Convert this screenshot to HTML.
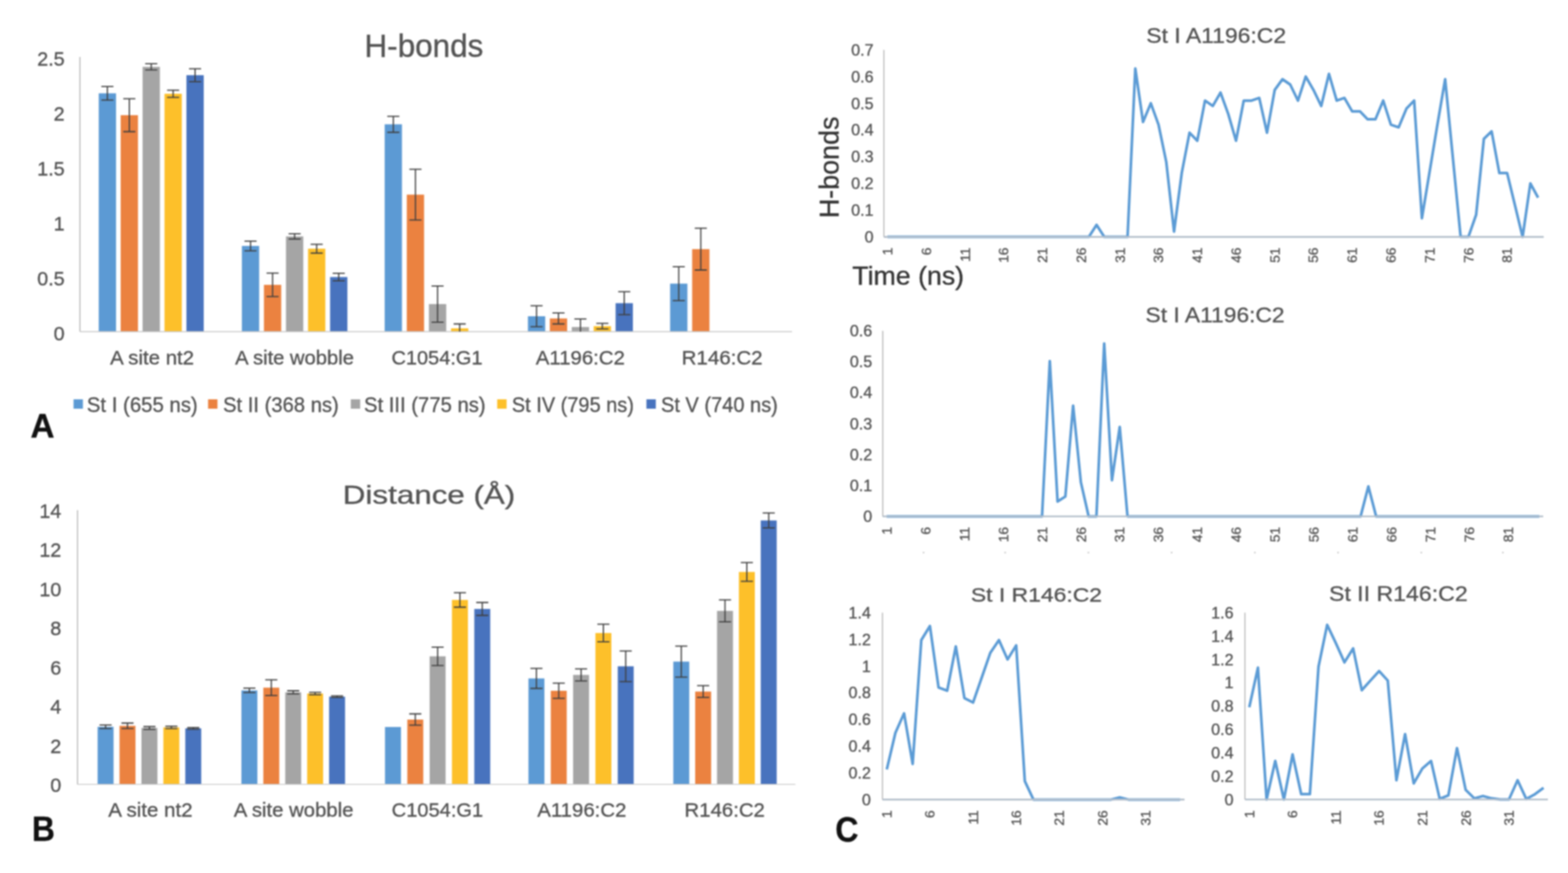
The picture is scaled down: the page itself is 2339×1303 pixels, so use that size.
<!DOCTYPE html>
<html><head><meta charset="utf-8"><title>Figure</title>
<style>
html,body{margin:0;padding:0;background:#fff;}
body{width:2339px;height:1303px;overflow:hidden;}
svg{display:block;font-family:"Liberation Sans",Arial,Helvetica,sans-serif;}
#wrap{filter:blur(1px);}
</style></head><body><div id="wrap">
<svg width="2339" height="1303" viewBox="0 0 2339 1303">
<rect width="2339" height="1303" fill="#fff"/>
<rect x="147.30" y="139.28" width="25.80" height="355.72" fill="#5C9AD4"/>
<rect x="180.00" y="171.92" width="25.80" height="323.08" fill="#EB8240"/>
<rect x="212.70" y="99.76" width="25.80" height="395.24" fill="#A5A5A5"/>
<rect x="245.40" y="139.94" width="25.80" height="355.06" fill="#FDC02A"/>
<rect x="278.10" y="112.22" width="25.80" height="382.78" fill="#4873BE"/>
<rect x="360.80" y="367.08" width="25.80" height="127.92" fill="#5C9AD4"/>
<rect x="393.70" y="425.14" width="25.80" height="69.86" fill="#EB8240"/>
<rect x="426.60" y="352.81" width="25.80" height="142.19" fill="#A5A5A5"/>
<rect x="459.50" y="371.18" width="25.80" height="123.82" fill="#FDC02A"/>
<rect x="492.40" y="413.49" width="25.80" height="81.51" fill="#4873BE"/>
<rect x="573.80" y="185.53" width="25.80" height="309.47" fill="#5C9AD4"/>
<rect x="606.80" y="290.49" width="25.80" height="204.51" fill="#EB8240"/>
<rect x="639.80" y="453.84" width="25.80" height="41.16" fill="#A5A5A5"/>
<rect x="672.80" y="490.08" width="25.80" height="4.92" fill="#FDC02A"/>
<rect x="787.50" y="472.04" width="25.80" height="22.96" fill="#5C9AD4"/>
<rect x="820.20" y="475.32" width="25.80" height="19.68" fill="#EB8240"/>
<rect x="852.90" y="488.11" width="25.80" height="6.89" fill="#A5A5A5"/>
<rect x="885.60" y="486.80" width="25.80" height="8.20" fill="#FDC02A"/>
<rect x="918.30" y="452.52" width="25.80" height="42.48" fill="#4873BE"/>
<rect x="999.60" y="423.33" width="25.80" height="71.67" fill="#5C9AD4"/>
<rect x="1032.50" y="371.84" width="25.80" height="123.16" fill="#EB8240"/>
<line x1="119.30" y1="85.00" x2="119.30" y2="495.00" stroke="#ABABAB" stroke-width="1.4"/>
<line x1="119.30" y1="495.00" x2="1181.50" y2="495.00" stroke="#C6C6C6" stroke-width="1.3"/>
<path d="M160.20 129.12V149.45M151.20 129.12H169.20M151.20 149.45H169.20" stroke="#3F3F3F" stroke-width="1.8" fill="none"/>
<path d="M192.90 147.32V196.52M183.90 147.32H201.90M183.90 196.52H201.90" stroke="#3F3F3F" stroke-width="1.8" fill="none"/>
<path d="M225.60 95.17V104.35M216.60 95.17H234.60M216.60 104.35H234.60" stroke="#3F3F3F" stroke-width="1.8" fill="none"/>
<path d="M258.30 134.53V145.35M249.30 134.53H267.30M249.30 145.35H267.30" stroke="#3F3F3F" stroke-width="1.8" fill="none"/>
<path d="M291.00 102.55V121.90M282.00 102.55H300.00M282.00 121.90H300.00" stroke="#3F3F3F" stroke-width="1.8" fill="none"/>
<path d="M373.70 359.86V374.30M364.70 359.86H382.70M364.70 374.30H382.70" stroke="#3F3F3F" stroke-width="1.8" fill="none"/>
<path d="M406.60 407.59V442.68M397.60 407.59H415.60M397.60 442.68H415.60" stroke="#3F3F3F" stroke-width="1.8" fill="none"/>
<path d="M439.50 348.88V356.75M430.50 348.88H448.50M430.50 356.75H448.50" stroke="#3F3F3F" stroke-width="1.8" fill="none"/>
<path d="M472.40 364.62V377.74M463.40 364.62H481.40M463.40 377.74H481.40" stroke="#3F3F3F" stroke-width="1.8" fill="none"/>
<path d="M505.30 407.92V419.07M496.30 407.92H514.30M496.30 419.07H514.30" stroke="#3F3F3F" stroke-width="1.8" fill="none"/>
<path d="M586.70 173.56V197.50M577.70 173.56H595.70M577.70 197.50H595.70" stroke="#3F3F3F" stroke-width="1.8" fill="none"/>
<path d="M619.70 252.61V328.38M610.70 252.61H628.70M610.70 328.38H628.70" stroke="#3F3F3F" stroke-width="1.8" fill="none"/>
<path d="M652.70 426.78V480.90M643.70 426.78H661.70M643.70 480.90H661.70" stroke="#3F3F3F" stroke-width="1.8" fill="none"/>
<path d="M685.70 483.52V495.00M676.70 483.52H694.70" stroke="#3F3F3F" stroke-width="1.8" fill="none"/>
<path d="M800.40 456.46V487.62M791.40 456.46H809.40M791.40 487.62H809.40" stroke="#3F3F3F" stroke-width="1.8" fill="none"/>
<path d="M833.10 467.12V483.52M824.10 467.12H842.10M824.10 483.52H842.10" stroke="#3F3F3F" stroke-width="1.8" fill="none"/>
<path d="M865.80 476.14V495.00M856.80 476.14H874.80" stroke="#3F3F3F" stroke-width="1.8" fill="none"/>
<path d="M898.50 482.70V490.90M889.50 482.70H907.50M889.50 490.90H907.50" stroke="#3F3F3F" stroke-width="1.8" fill="none"/>
<path d="M931.20 435.47V469.58M922.20 435.47H940.20M922.20 469.58H940.20" stroke="#3F3F3F" stroke-width="1.8" fill="none"/>
<path d="M1012.50 398.08V448.59M1003.50 398.08H1021.50M1003.50 448.59H1021.50" stroke="#3F3F3F" stroke-width="1.8" fill="none"/>
<path d="M1045.40 340.68V403.00M1036.40 340.68H1054.40M1036.40 403.00H1054.40" stroke="#3F3F3F" stroke-width="1.8" fill="none"/>
<rect x="145.60" y="1084.79" width="23.80" height="85.91" fill="#5C9AD4"/>
<rect x="178.30" y="1083.33" width="23.80" height="87.37" fill="#EB8240"/>
<rect x="211.00" y="1086.54" width="23.80" height="84.16" fill="#A5A5A5"/>
<rect x="243.70" y="1085.67" width="23.80" height="85.03" fill="#FDC02A"/>
<rect x="276.40" y="1087.13" width="23.80" height="83.57" fill="#4873BE"/>
<rect x="360.10" y="1030.44" width="23.80" height="140.26" fill="#5C9AD4"/>
<rect x="392.80" y="1026.35" width="23.80" height="144.35" fill="#EB8240"/>
<rect x="425.50" y="1033.36" width="23.80" height="137.34" fill="#A5A5A5"/>
<rect x="458.20" y="1035.11" width="23.80" height="135.59" fill="#FDC02A"/>
<rect x="490.90" y="1039.79" width="23.80" height="130.91" fill="#4873BE"/>
<rect x="574.30" y="1085.08" width="23.80" height="85.62" fill="#5C9AD4"/>
<rect x="607.60" y="1073.98" width="23.80" height="96.72" fill="#EB8240"/>
<rect x="640.90" y="979.59" width="23.80" height="191.11" fill="#A5A5A5"/>
<rect x="674.20" y="895.43" width="23.80" height="275.27" fill="#FDC02A"/>
<rect x="707.50" y="908.88" width="23.80" height="261.82" fill="#4873BE"/>
<rect x="788.30" y="1012.61" width="23.80" height="158.09" fill="#5C9AD4"/>
<rect x="821.60" y="1031.02" width="23.80" height="139.68" fill="#EB8240"/>
<rect x="854.90" y="1007.35" width="23.80" height="163.35" fill="#A5A5A5"/>
<rect x="888.20" y="944.82" width="23.80" height="225.88" fill="#FDC02A"/>
<rect x="921.50" y="994.49" width="23.80" height="176.21" fill="#4873BE"/>
<rect x="1004.40" y="987.48" width="23.80" height="183.22" fill="#5C9AD4"/>
<rect x="1037.00" y="1032.19" width="23.80" height="138.51" fill="#EB8240"/>
<rect x="1069.60" y="911.80" width="23.80" height="258.90" fill="#A5A5A5"/>
<rect x="1102.20" y="853.65" width="23.80" height="317.05" fill="#FDC02A"/>
<rect x="1134.80" y="776.80" width="23.80" height="393.90" fill="#4873BE"/>
<line x1="115.60" y1="761.60" x2="115.60" y2="1170.70" stroke="#ABABAB" stroke-width="1.4"/>
<line x1="115.60" y1="1170.70" x2="1186.50" y2="1170.70" stroke="#C6C6C6" stroke-width="1.3"/>
<path d="M157.50 1082.16V1087.42M148.50 1082.16H166.50M148.50 1087.42H166.50" stroke="#3F3F3F" stroke-width="1.8" fill="none"/>
<path d="M190.20 1079.24V1087.42M181.20 1079.24H199.20M181.20 1087.42H199.20" stroke="#3F3F3F" stroke-width="1.8" fill="none"/>
<path d="M222.90 1084.50V1088.59M213.90 1084.50H231.90M213.90 1088.59H231.90" stroke="#3F3F3F" stroke-width="1.8" fill="none"/>
<path d="M255.60 1083.91V1087.42M246.60 1083.91H264.60M246.60 1087.42H264.60" stroke="#3F3F3F" stroke-width="1.8" fill="none"/>
<path d="M288.30 1085.96V1088.30M279.30 1085.96H297.30M279.30 1088.30H297.30" stroke="#3F3F3F" stroke-width="1.8" fill="none"/>
<path d="M372.00 1027.22V1033.65M363.00 1027.22H381.00M363.00 1033.65H381.00" stroke="#3F3F3F" stroke-width="1.8" fill="none"/>
<path d="M404.70 1014.66V1038.03M395.70 1014.66H413.70M395.70 1038.03H413.70" stroke="#3F3F3F" stroke-width="1.8" fill="none"/>
<path d="M437.40 1031.02V1035.70M428.40 1031.02H446.40M428.40 1035.70H446.40" stroke="#3F3F3F" stroke-width="1.8" fill="none"/>
<path d="M470.10 1033.36V1036.87M461.10 1033.36H479.10M461.10 1036.87H479.10" stroke="#3F3F3F" stroke-width="1.8" fill="none"/>
<path d="M502.80 1038.62V1040.96M493.80 1038.62H511.80M493.80 1040.96H511.80" stroke="#3F3F3F" stroke-width="1.8" fill="none"/>
<path d="M619.50 1065.50V1082.45M610.50 1065.50H628.50M610.50 1082.45H628.50" stroke="#3F3F3F" stroke-width="1.8" fill="none"/>
<path d="M652.80 965.86V993.33M643.80 965.86H661.80M643.80 993.33H661.80" stroke="#3F3F3F" stroke-width="1.8" fill="none"/>
<path d="M686.10 884.62V906.25M677.10 884.62H695.10M677.10 906.25H695.10" stroke="#3F3F3F" stroke-width="1.8" fill="none"/>
<path d="M719.40 899.23V918.52M710.40 899.23H728.40M710.40 918.52H728.40" stroke="#3F3F3F" stroke-width="1.8" fill="none"/>
<path d="M800.20 997.71V1027.52M791.20 997.71H809.20M791.20 1027.52H809.20" stroke="#3F3F3F" stroke-width="1.8" fill="none"/>
<path d="M833.50 1019.63V1042.42M824.50 1019.63H842.50M824.50 1042.42H842.50" stroke="#3F3F3F" stroke-width="1.8" fill="none"/>
<path d="M866.80 998.29V1016.41M857.80 998.29H875.80M857.80 1016.41H875.80" stroke="#3F3F3F" stroke-width="1.8" fill="none"/>
<path d="M900.10 931.67V957.97M891.10 931.67H909.10M891.10 957.97H909.10" stroke="#3F3F3F" stroke-width="1.8" fill="none"/>
<path d="M933.40 971.70V1017.29M924.40 971.70H942.40M924.40 1017.29H942.40" stroke="#3F3F3F" stroke-width="1.8" fill="none"/>
<path d="M1016.30 964.40V1010.57M1007.30 964.40H1025.30M1007.30 1010.57H1025.30" stroke="#3F3F3F" stroke-width="1.8" fill="none"/>
<path d="M1048.90 1023.42V1040.96M1039.90 1023.42H1057.90M1039.90 1040.96H1057.90" stroke="#3F3F3F" stroke-width="1.8" fill="none"/>
<path d="M1081.50 895.43V928.16M1072.50 895.43H1090.50M1072.50 928.16H1090.50" stroke="#3F3F3F" stroke-width="1.8" fill="none"/>
<path d="M1114.10 839.62V867.67M1105.10 839.62H1123.10M1105.10 867.67H1123.10" stroke="#3F3F3F" stroke-width="1.8" fill="none"/>
<path d="M1146.70 765.69V787.90M1137.70 765.69H1155.70M1137.70 787.90H1155.70" stroke="#3F3F3F" stroke-width="1.8" fill="none"/>
<text x="543.65" y="84.50" font-size="47.45" fill="#535353" stroke="#535353" stroke-width="0.45" textLength="177.39" lengthAdjust="spacingAndGlyphs">H-bonds</text>
<text x="96.50" y="507.80" font-size="29.50" text-anchor="end" fill="#535353" stroke="#535353" stroke-width="0.45">0</text>
<text x="96.50" y="425.80" font-size="29.50" text-anchor="end" fill="#535353" stroke="#535353" stroke-width="0.45">0.5</text>
<text x="96.50" y="343.80" font-size="29.50" text-anchor="end" fill="#535353" stroke="#535353" stroke-width="0.45">1</text>
<text x="96.50" y="261.80" font-size="29.50" text-anchor="end" fill="#535353" stroke="#535353" stroke-width="0.45">1.5</text>
<text x="96.50" y="179.80" font-size="29.50" text-anchor="end" fill="#535353" stroke="#535353" stroke-width="0.45">2</text>
<text x="96.50" y="97.80" font-size="29.50" text-anchor="end" fill="#535353" stroke="#535353" stroke-width="0.45">2.5</text>
<text x="164.20" y="544.10" font-size="29.24" fill="#535353" stroke="#535353" stroke-width="0.45" textLength="125.29" lengthAdjust="spacingAndGlyphs">A site nt2</text>
<text x="350.70" y="544.10" font-size="29.24" fill="#535353" stroke="#535353" stroke-width="0.45" textLength="177.24" lengthAdjust="spacingAndGlyphs">A site wobble</text>
<text x="583.91" y="544.10" font-size="30.29" fill="#535353" stroke="#535353" stroke-width="0.45" textLength="135.89" lengthAdjust="spacingAndGlyphs">C1054:G1</text>
<text x="799.30" y="544.10" font-size="30.29" fill="#535353" stroke="#535353" stroke-width="0.45" textLength="132.78" lengthAdjust="spacingAndGlyphs">A1196:C2</text>
<text x="1016.75" y="544.10" font-size="30.29" fill="#535353" stroke="#535353" stroke-width="0.45" textLength="120.84" lengthAdjust="spacingAndGlyphs">R146:C2</text>
<rect x="109.70" y="596" width="14" height="14" fill="#5C9AD4"/>
<text x="129.53" y="614.70" font-size="31.03" fill="#535353" stroke="#535353" stroke-width="0.45" textLength="165.45" lengthAdjust="spacingAndGlyphs">St I (655 ns)</text>
<rect x="310.40" y="596" width="14" height="14" fill="#EB8240"/>
<text x="332.74" y="614.70" font-size="31.03" fill="#535353" stroke="#535353" stroke-width="0.45" textLength="172.61" lengthAdjust="spacingAndGlyphs">St II (368 ns)</text>
<rect x="523.30" y="596" width="14" height="14" fill="#A5A5A5"/>
<text x="543.04" y="614.70" font-size="31.03" fill="#535353" stroke="#535353" stroke-width="0.45" textLength="181.35" lengthAdjust="spacingAndGlyphs">St III (775 ns)</text>
<rect x="741.70" y="596" width="14" height="14" fill="#FDC02A"/>
<text x="763.46" y="614.70" font-size="31.03" fill="#535353" stroke="#535353" stroke-width="0.45" textLength="182.25" lengthAdjust="spacingAndGlyphs">St IV (795 ns)</text>
<rect x="964.30" y="596" width="14" height="14" fill="#4873BE"/>
<text x="986.06" y="614.70" font-size="31.03" fill="#535353" stroke="#535353" stroke-width="0.45" textLength="174.27" lengthAdjust="spacingAndGlyphs">St V (740 ns)</text>
<text x="45.46" y="653.20" font-size="50.58" font-weight="bold" fill="#111" stroke="#111" stroke-width="0.45" textLength="35.79" lengthAdjust="spacingAndGlyphs">A</text>
<text x="511.36" y="752.40" font-size="38.16" fill="#535353" stroke="#535353" stroke-width="0.45" textLength="257.22" lengthAdjust="spacingAndGlyphs">Distance (Å)</text>
<text x="91.50" y="1182.20" font-size="29.50" text-anchor="end" fill="#535353" stroke="#535353" stroke-width="0.45">0</text>
<text x="91.50" y="1123.70" font-size="29.50" text-anchor="end" fill="#535353" stroke="#535353" stroke-width="0.45">2</text>
<text x="91.50" y="1065.20" font-size="29.50" text-anchor="end" fill="#535353" stroke="#535353" stroke-width="0.45">4</text>
<text x="91.50" y="1006.70" font-size="29.50" text-anchor="end" fill="#535353" stroke="#535353" stroke-width="0.45">6</text>
<text x="91.50" y="948.20" font-size="29.50" text-anchor="end" fill="#535353" stroke="#535353" stroke-width="0.45">8</text>
<text x="91.50" y="889.70" font-size="29.50" text-anchor="end" fill="#535353" stroke="#535353" stroke-width="0.45">10</text>
<text x="91.50" y="831.20" font-size="29.50" text-anchor="end" fill="#535353" stroke="#535353" stroke-width="0.45">12</text>
<text x="91.50" y="772.70" font-size="29.50" text-anchor="end" fill="#535353" stroke="#535353" stroke-width="0.45">14</text>
<text x="161.40" y="1218.60" font-size="28.97" fill="#535353" stroke="#535353" stroke-width="0.45" textLength="126.00" lengthAdjust="spacingAndGlyphs">A site nt2</text>
<text x="348.70" y="1218.60" font-size="28.97" fill="#535353" stroke="#535353" stroke-width="0.45" textLength="178.55" lengthAdjust="spacingAndGlyphs">A site wobble</text>
<text x="584.30" y="1218.60" font-size="30.00" fill="#535353" stroke="#535353" stroke-width="0.45" textLength="136.40" lengthAdjust="spacingAndGlyphs">C1054:G1</text>
<text x="801.40" y="1218.60" font-size="30.00" fill="#535353" stroke="#535353" stroke-width="0.45" textLength="132.98" lengthAdjust="spacingAndGlyphs">A1196:C2</text>
<text x="1021.07" y="1218.60" font-size="30.00" fill="#535353" stroke="#535353" stroke-width="0.45" textLength="119.91" lengthAdjust="spacingAndGlyphs">R146:C2</text>
<text x="47.73" y="1255.30" font-size="51.30" font-weight="bold" fill="#111" stroke="#111" stroke-width="0.45" textLength="34.10" lengthAdjust="spacingAndGlyphs">B</text>
<line x1="1318.50" y1="74.40" x2="1318.50" y2="353.60" stroke="#ABABAB" stroke-width="1.4"/>
<line x1="1318.50" y1="353.60" x2="2302.60" y2="353.60" stroke="#ABABAB" stroke-width="1.4"/>
<polyline points="1323.78,353.60 1335.33,353.60 1346.89,353.60 1358.44,353.60 1370.00,353.60 1381.55,353.60 1393.11,353.60 1404.66,353.60 1416.22,353.60 1427.77,353.60 1439.33,353.60 1450.88,353.60 1462.44,353.60 1473.99,353.60 1485.55,353.60 1497.10,353.60 1508.66,353.60 1520.21,353.60 1531.77,353.60 1543.32,353.60 1554.88,353.60 1566.43,353.60 1577.99,353.60 1589.54,353.60 1601.10,353.60 1612.65,353.60 1624.21,353.60 1635.76,335.65 1647.32,353.60 1658.87,353.60 1670.43,353.60 1681.98,353.60 1693.54,102.32 1705.09,182.09 1716.65,154.17 1728.20,186.08 1739.76,241.92 1751.31,345.62 1762.87,257.87 1774.42,198.05 1785.98,210.01 1797.53,150.18 1809.09,158.16 1820.64,138.22 1832.20,170.13 1843.75,210.01 1855.31,150.18 1866.86,150.18 1878.42,146.19 1889.97,198.05 1901.53,134.23 1913.08,118.27 1924.64,126.25 1936.19,150.18 1947.75,114.29 1959.30,134.23 1970.86,158.16 1982.41,110.30 1993.97,150.18 2005.52,146.19 2017.08,166.14 2028.63,166.14 2040.19,178.10 2051.74,178.10 2063.30,150.18 2074.85,186.08 2086.41,190.07 2097.96,162.15 2109.52,150.18 2121.07,325.68 2132.63,255.88 2144.18,186.08 2155.74,118.27 2167.29,235.94 2178.85,353.60 2190.40,353.60 2201.96,320.49 2213.51,207.22 2225.07,196.05 2236.62,258.27 2248.18,258.27 2259.73,305.74 2271.29,353.60 2282.84,273.83 2294.40,294.97" fill="none" stroke="#5B9BD5" stroke-width="4" stroke-linejoin="round"/>
<line x1="1318.50" y1="353.60" x2="2302.60" y2="353.60" stroke="#B4BFCB" stroke-width="2.6"/>
<text x="1303.00" y="362.00" font-size="24.00" text-anchor="end" fill="#535353" stroke="#535353" stroke-width="0.45">0</text>
<text x="1303.00" y="322.11" font-size="24.00" text-anchor="end" fill="#535353" stroke="#535353" stroke-width="0.45">0.1</text>
<text x="1303.00" y="282.23" font-size="24.00" text-anchor="end" fill="#535353" stroke="#535353" stroke-width="0.45">0.2</text>
<text x="1303.00" y="242.34" font-size="24.00" text-anchor="end" fill="#535353" stroke="#535353" stroke-width="0.45">0.3</text>
<text x="1303.00" y="202.46" font-size="24.00" text-anchor="end" fill="#535353" stroke="#535353" stroke-width="0.45">0.4</text>
<text x="1303.00" y="162.57" font-size="24.00" text-anchor="end" fill="#535353" stroke="#535353" stroke-width="0.45">0.5</text>
<text x="1303.00" y="122.69" font-size="24.00" text-anchor="end" fill="#535353" stroke="#535353" stroke-width="0.45">0.6</text>
<text x="1303.00" y="82.80" font-size="24.00" text-anchor="end" fill="#535353" stroke="#535353" stroke-width="0.45">0.7</text>
<text transform="translate(1330.95,369.50) rotate(-90)" font-size="20.50" text-anchor="end" fill="#535353" stroke="#535353" stroke-width="0.45">1</text>
<text transform="translate(1388.73,369.50) rotate(-90)" font-size="20.50" text-anchor="end" fill="#535353" stroke="#535353" stroke-width="0.45">6</text>
<text transform="translate(1446.50,369.50) rotate(-90)" font-size="20.50" text-anchor="end" fill="#535353" stroke="#535353" stroke-width="0.45">11</text>
<text transform="translate(1504.28,369.50) rotate(-90)" font-size="20.50" text-anchor="end" fill="#535353" stroke="#535353" stroke-width="0.45">16</text>
<text transform="translate(1562.05,369.50) rotate(-90)" font-size="20.50" text-anchor="end" fill="#535353" stroke="#535353" stroke-width="0.45">21</text>
<text transform="translate(1619.83,369.50) rotate(-90)" font-size="20.50" text-anchor="end" fill="#535353" stroke="#535353" stroke-width="0.45">26</text>
<text transform="translate(1677.60,369.50) rotate(-90)" font-size="20.50" text-anchor="end" fill="#535353" stroke="#535353" stroke-width="0.45">31</text>
<text transform="translate(1735.38,369.50) rotate(-90)" font-size="20.50" text-anchor="end" fill="#535353" stroke="#535353" stroke-width="0.45">36</text>
<text transform="translate(1793.15,369.50) rotate(-90)" font-size="20.50" text-anchor="end" fill="#535353" stroke="#535353" stroke-width="0.45">41</text>
<text transform="translate(1850.93,369.50) rotate(-90)" font-size="20.50" text-anchor="end" fill="#535353" stroke="#535353" stroke-width="0.45">46</text>
<text transform="translate(1908.70,369.50) rotate(-90)" font-size="20.50" text-anchor="end" fill="#535353" stroke="#535353" stroke-width="0.45">51</text>
<text transform="translate(1966.48,369.50) rotate(-90)" font-size="20.50" text-anchor="end" fill="#535353" stroke="#535353" stroke-width="0.45">56</text>
<text transform="translate(2024.25,369.50) rotate(-90)" font-size="20.50" text-anchor="end" fill="#535353" stroke="#535353" stroke-width="0.45">61</text>
<text transform="translate(2082.03,369.50) rotate(-90)" font-size="20.50" text-anchor="end" fill="#535353" stroke="#535353" stroke-width="0.45">66</text>
<text transform="translate(2139.80,369.50) rotate(-90)" font-size="20.50" text-anchor="end" fill="#535353" stroke="#535353" stroke-width="0.45">71</text>
<text transform="translate(2197.58,369.50) rotate(-90)" font-size="20.50" text-anchor="end" fill="#535353" stroke="#535353" stroke-width="0.45">76</text>
<text transform="translate(2255.35,369.50) rotate(-90)" font-size="20.50" text-anchor="end" fill="#535353" stroke="#535353" stroke-width="0.45">81</text>
<line x1="1316.80" y1="493.70" x2="1316.80" y2="770.70" stroke="#ABABAB" stroke-width="1.4"/>
<line x1="1316.80" y1="770.70" x2="2302.00" y2="770.70" stroke="#ABABAB" stroke-width="1.4"/>
<polyline points="1322.60,770.70 1334.19,770.70 1345.78,770.70 1357.37,770.70 1368.96,770.70 1380.55,770.70 1392.14,770.70 1403.73,770.70 1415.32,770.70 1426.91,770.70 1438.50,770.70 1450.09,770.70 1461.68,770.70 1473.27,770.70 1484.86,770.70 1496.45,770.70 1508.04,770.70 1519.64,770.70 1531.23,770.70 1542.82,770.70 1554.41,770.70 1566.00,538.94 1577.59,748.54 1589.18,741.15 1600.77,605.42 1612.36,719.92 1623.95,770.70 1635.54,770.70 1647.13,512.63 1658.72,716.69 1670.31,637.28 1681.90,770.70 1693.49,770.70 1705.08,770.70 1716.68,770.70 1728.27,770.70 1739.86,770.70 1751.45,770.70 1763.04,770.70 1774.63,770.70 1786.22,770.70 1797.81,770.70 1809.40,770.70 1820.99,770.70 1832.58,770.70 1844.17,770.70 1855.76,770.70 1867.35,770.70 1878.94,770.70 1890.53,770.70 1902.12,770.70 1913.72,770.70 1925.31,770.70 1936.90,770.70 1948.49,770.70 1960.08,770.70 1971.67,770.70 1983.26,770.70 1994.85,770.70 2006.44,770.70 2018.03,770.70 2029.62,770.70 2041.21,725.92 2052.80,770.70 2064.39,770.70 2075.98,770.70 2087.57,770.70 2099.16,770.70 2110.76,770.70 2122.35,770.70 2133.94,770.70 2145.53,770.70 2157.12,770.70 2168.71,770.70 2180.30,770.70 2191.89,770.70 2203.48,770.70 2215.07,770.70 2226.66,770.70 2238.25,770.70 2249.84,770.70 2261.43,770.70 2273.02,770.70 2284.61,770.70 2296.20,770.70" fill="none" stroke="#5B9BD5" stroke-width="4" stroke-linejoin="round"/>
<line x1="1316.80" y1="770.70" x2="2302.00" y2="770.70" stroke="#B4BFCB" stroke-width="2.6"/>
<text x="1301.00" y="779.10" font-size="24.00" text-anchor="end" fill="#535353" stroke="#535353" stroke-width="0.45">0</text>
<text x="1301.00" y="732.93" font-size="24.00" text-anchor="end" fill="#535353" stroke="#535353" stroke-width="0.45">0.1</text>
<text x="1301.00" y="686.77" font-size="24.00" text-anchor="end" fill="#535353" stroke="#535353" stroke-width="0.45">0.2</text>
<text x="1301.00" y="640.60" font-size="24.00" text-anchor="end" fill="#535353" stroke="#535353" stroke-width="0.45">0.3</text>
<text x="1301.00" y="594.43" font-size="24.00" text-anchor="end" fill="#535353" stroke="#535353" stroke-width="0.45">0.4</text>
<text x="1301.00" y="548.27" font-size="24.00" text-anchor="end" fill="#535353" stroke="#535353" stroke-width="0.45">0.5</text>
<text x="1301.00" y="502.10" font-size="24.00" text-anchor="end" fill="#535353" stroke="#535353" stroke-width="0.45">0.6</text>
<text transform="translate(1329.77,786.50) rotate(-90)" font-size="20.50" text-anchor="end" fill="#535353" stroke="#535353" stroke-width="0.45">1</text>
<text transform="translate(1387.72,786.50) rotate(-90)" font-size="20.50" text-anchor="end" fill="#535353" stroke="#535353" stroke-width="0.45">6</text>
<text transform="translate(1445.68,786.50) rotate(-90)" font-size="20.50" text-anchor="end" fill="#535353" stroke="#535353" stroke-width="0.45">11</text>
<text transform="translate(1503.63,786.50) rotate(-90)" font-size="20.50" text-anchor="end" fill="#535353" stroke="#535353" stroke-width="0.45">16</text>
<text transform="translate(1561.58,786.50) rotate(-90)" font-size="20.50" text-anchor="end" fill="#535353" stroke="#535353" stroke-width="0.45">21</text>
<text transform="translate(1619.53,786.50) rotate(-90)" font-size="20.50" text-anchor="end" fill="#535353" stroke="#535353" stroke-width="0.45">26</text>
<text transform="translate(1677.49,786.50) rotate(-90)" font-size="20.50" text-anchor="end" fill="#535353" stroke="#535353" stroke-width="0.45">31</text>
<text transform="translate(1735.44,786.50) rotate(-90)" font-size="20.50" text-anchor="end" fill="#535353" stroke="#535353" stroke-width="0.45">36</text>
<text transform="translate(1793.39,786.50) rotate(-90)" font-size="20.50" text-anchor="end" fill="#535353" stroke="#535353" stroke-width="0.45">41</text>
<text transform="translate(1851.35,786.50) rotate(-90)" font-size="20.50" text-anchor="end" fill="#535353" stroke="#535353" stroke-width="0.45">46</text>
<text transform="translate(1909.30,786.50) rotate(-90)" font-size="20.50" text-anchor="end" fill="#535353" stroke="#535353" stroke-width="0.45">51</text>
<text transform="translate(1967.25,786.50) rotate(-90)" font-size="20.50" text-anchor="end" fill="#535353" stroke="#535353" stroke-width="0.45">56</text>
<text transform="translate(2025.21,786.50) rotate(-90)" font-size="20.50" text-anchor="end" fill="#535353" stroke="#535353" stroke-width="0.45">61</text>
<text transform="translate(2083.16,786.50) rotate(-90)" font-size="20.50" text-anchor="end" fill="#535353" stroke="#535353" stroke-width="0.45">66</text>
<text transform="translate(2141.11,786.50) rotate(-90)" font-size="20.50" text-anchor="end" fill="#535353" stroke="#535353" stroke-width="0.45">71</text>
<text transform="translate(2199.06,786.50) rotate(-90)" font-size="20.50" text-anchor="end" fill="#535353" stroke="#535353" stroke-width="0.45">76</text>
<text transform="translate(2257.02,786.50) rotate(-90)" font-size="20.50" text-anchor="end" fill="#535353" stroke="#535353" stroke-width="0.45">81</text>
<line x1="1316.40" y1="914.50" x2="1316.40" y2="1193.40" stroke="#ABABAB" stroke-width="1.4"/>
<line x1="1316.40" y1="1193.40" x2="1766.80" y2="1193.40" stroke="#ABABAB" stroke-width="1.4"/>
<polyline points="1322.83,1148.38 1335.70,1093.79 1348.57,1064.71 1361.44,1140.21 1374.31,955.34 1387.18,934.42 1400.05,1026.06 1412.91,1030.84 1425.78,964.90 1438.65,1042.00 1451.52,1048.57 1464.39,1011.52 1477.26,974.46 1490.13,955.34 1502.99,984.23 1515.86,963.31 1528.73,1165.91 1541.60,1193.40 1554.47,1193.40 1567.34,1193.40 1580.21,1193.40 1593.07,1193.40 1605.94,1193.40 1618.81,1193.40 1631.68,1193.40 1644.55,1193.40 1657.42,1193.40 1670.29,1190.21 1683.15,1193.40 1696.02,1193.40 1708.89,1193.40 1721.76,1193.40 1734.63,1193.40 1747.50,1193.40 1760.37,1193.40" fill="none" stroke="#5B9BD5" stroke-width="4" stroke-linejoin="round"/>
<line x1="1316.40" y1="1193.40" x2="1766.80" y2="1193.40" stroke="#B4BFCB" stroke-width="2.6"/>
<text x="1299.00" y="1201.80" font-size="24.00" text-anchor="end" fill="#535353" stroke="#535353" stroke-width="0.45">0</text>
<text x="1299.00" y="1161.96" font-size="24.00" text-anchor="end" fill="#535353" stroke="#535353" stroke-width="0.45">0.2</text>
<text x="1299.00" y="1122.11" font-size="24.00" text-anchor="end" fill="#535353" stroke="#535353" stroke-width="0.45">0.4</text>
<text x="1299.00" y="1082.27" font-size="24.00" text-anchor="end" fill="#535353" stroke="#535353" stroke-width="0.45">0.6</text>
<text x="1299.00" y="1042.43" font-size="24.00" text-anchor="end" fill="#535353" stroke="#535353" stroke-width="0.45">0.8</text>
<text x="1299.00" y="1002.59" font-size="24.00" text-anchor="end" fill="#535353" stroke="#535353" stroke-width="0.45">1</text>
<text x="1299.00" y="962.74" font-size="24.00" text-anchor="end" fill="#535353" stroke="#535353" stroke-width="0.45">1.2</text>
<text x="1299.00" y="922.90" font-size="24.00" text-anchor="end" fill="#535353" stroke="#535353" stroke-width="0.45">1.4</text>
<text transform="translate(1330.01,1209.50) rotate(-90)" font-size="20.50" text-anchor="end" fill="#535353" stroke="#535353" stroke-width="0.45">1</text>
<text transform="translate(1394.35,1209.50) rotate(-90)" font-size="20.50" text-anchor="end" fill="#535353" stroke="#535353" stroke-width="0.45">6</text>
<text transform="translate(1458.69,1209.50) rotate(-90)" font-size="20.50" text-anchor="end" fill="#535353" stroke="#535353" stroke-width="0.45">11</text>
<text transform="translate(1523.04,1209.50) rotate(-90)" font-size="20.50" text-anchor="end" fill="#535353" stroke="#535353" stroke-width="0.45">16</text>
<text transform="translate(1587.38,1209.50) rotate(-90)" font-size="20.50" text-anchor="end" fill="#535353" stroke="#535353" stroke-width="0.45">21</text>
<text transform="translate(1651.72,1209.50) rotate(-90)" font-size="20.50" text-anchor="end" fill="#535353" stroke="#535353" stroke-width="0.45">26</text>
<text transform="translate(1716.07,1209.50) rotate(-90)" font-size="20.50" text-anchor="end" fill="#535353" stroke="#535353" stroke-width="0.45">31</text>
<line x1="1857.10" y1="914.50" x2="1857.10" y2="1193.30" stroke="#ABABAB" stroke-width="1.4"/>
<line x1="1857.10" y1="1193.30" x2="2309.00" y2="1193.30" stroke="#ABABAB" stroke-width="1.4"/>
<polyline points="1863.56,1055.64 1876.47,996.57 1889.38,1193.30 1902.29,1135.80 1915.20,1193.30 1928.11,1126.04 1941.02,1185.28 1953.94,1185.28 1966.85,995.00 1979.76,932.62 1992.67,959.80 2005.58,988.56 2018.49,967.82 2031.40,1030.20 2044.32,1015.74 2057.23,1001.62 2070.14,1015.74 2083.05,1164.55 2095.96,1095.72 2108.87,1169.25 2121.78,1146.95 2134.70,1135.80 2147.61,1192.43 2160.52,1187.03 2173.43,1116.63 2186.34,1178.84 2199.25,1191.56 2212.16,1188.07 2225.08,1191.56 2237.99,1193.30 2250.90,1193.30 2263.81,1164.55 2276.72,1192.43 2289.63,1185.46 2302.54,1175.88" fill="none" stroke="#5B9BD5" stroke-width="4" stroke-linejoin="round"/>
<line x1="1857.10" y1="1193.30" x2="2309.00" y2="1193.30" stroke="#B4BFCB" stroke-width="2.6"/>
<text x="1840.00" y="1201.70" font-size="24.00" text-anchor="end" fill="#535353" stroke="#535353" stroke-width="0.45">0</text>
<text x="1840.00" y="1166.85" font-size="24.00" text-anchor="end" fill="#535353" stroke="#535353" stroke-width="0.45">0.2</text>
<text x="1840.00" y="1132.00" font-size="24.00" text-anchor="end" fill="#535353" stroke="#535353" stroke-width="0.45">0.4</text>
<text x="1840.00" y="1097.15" font-size="24.00" text-anchor="end" fill="#535353" stroke="#535353" stroke-width="0.45">0.6</text>
<text x="1840.00" y="1062.30" font-size="24.00" text-anchor="end" fill="#535353" stroke="#535353" stroke-width="0.45">0.8</text>
<text x="1840.00" y="1027.45" font-size="24.00" text-anchor="end" fill="#535353" stroke="#535353" stroke-width="0.45">1</text>
<text x="1840.00" y="992.60" font-size="24.00" text-anchor="end" fill="#535353" stroke="#535353" stroke-width="0.45">1.2</text>
<text x="1840.00" y="957.75" font-size="24.00" text-anchor="end" fill="#535353" stroke="#535353" stroke-width="0.45">1.4</text>
<text x="1840.00" y="922.90" font-size="24.00" text-anchor="end" fill="#535353" stroke="#535353" stroke-width="0.45">1.6</text>
<text transform="translate(1870.73,1209.50) rotate(-90)" font-size="20.50" text-anchor="end" fill="#535353" stroke="#535353" stroke-width="0.45">1</text>
<text transform="translate(1935.29,1209.50) rotate(-90)" font-size="20.50" text-anchor="end" fill="#535353" stroke="#535353" stroke-width="0.45">6</text>
<text transform="translate(1999.84,1209.50) rotate(-90)" font-size="20.50" text-anchor="end" fill="#535353" stroke="#535353" stroke-width="0.45">11</text>
<text transform="translate(2064.40,1209.50) rotate(-90)" font-size="20.50" text-anchor="end" fill="#535353" stroke="#535353" stroke-width="0.45">16</text>
<text transform="translate(2128.96,1209.50) rotate(-90)" font-size="20.50" text-anchor="end" fill="#535353" stroke="#535353" stroke-width="0.45">21</text>
<text transform="translate(2193.52,1209.50) rotate(-90)" font-size="20.50" text-anchor="end" fill="#535353" stroke="#535353" stroke-width="0.45">26</text>
<text transform="translate(2258.07,1209.50) rotate(-90)" font-size="20.50" text-anchor="end" fill="#535353" stroke="#535353" stroke-width="0.45">31</text>
<text x="1710.06" y="63.50" font-size="31.29" fill="#535353" stroke="#535353" stroke-width="0.45" textLength="208.41" lengthAdjust="spacingAndGlyphs">St I A1196:C2</text>
<text x="1708.87" y="481.40" font-size="32.00" fill="#535353" stroke="#535353" stroke-width="0.45" textLength="207.39" lengthAdjust="spacingAndGlyphs">St I A1196:C2</text>
<text x="1448.26" y="898.40" font-size="29.14" fill="#535353" stroke="#535353" stroke-width="0.45" textLength="195.55" lengthAdjust="spacingAndGlyphs">St I R146:C2</text>
<text x="1982.45" y="896.70" font-size="31.29" fill="#535353" stroke="#535353" stroke-width="0.45" textLength="206.88" lengthAdjust="spacingAndGlyphs">St II R146:C2</text>
<text x="1271.30" y="425.40" font-size="38.34" fill="#333" stroke="#333" stroke-width="0.45" textLength="166.80" lengthAdjust="spacingAndGlyphs">Time (ns)</text>
<text transform="translate(1251.00,325.61) rotate(-90)" font-size="40.55" fill="#333" stroke="#333" stroke-width="0.45" textLength="151.61" lengthAdjust="spacingAndGlyphs">H-bonds</text>
<circle cx="1377.7" cy="824.8" r="1.3" fill="#C8C8C8"/>
<circle cx="1499.4" cy="824.8" r="1.3" fill="#C8C8C8"/>
<circle cx="1623.6" cy="824.8" r="1.3" fill="#C8C8C8"/>
<circle cx="1747.7" cy="824.8" r="1.3" fill="#C8C8C8"/>
<circle cx="1871.9" cy="824.8" r="1.3" fill="#C8C8C8"/>
<circle cx="1996" cy="824.8" r="1.3" fill="#C8C8C8"/>
<circle cx="2120.2" cy="824.8" r="1.3" fill="#C8C8C8"/>
<circle cx="2241.9" cy="824.8" r="1.3" fill="#C8C8C8"/>
<text x="1246.08" y="1255.60" font-size="51.71" font-weight="bold" fill="#111" stroke="#111" stroke-width="0.45" textLength="34.62" lengthAdjust="spacingAndGlyphs">C</text>
</svg></div>
</body></html>
